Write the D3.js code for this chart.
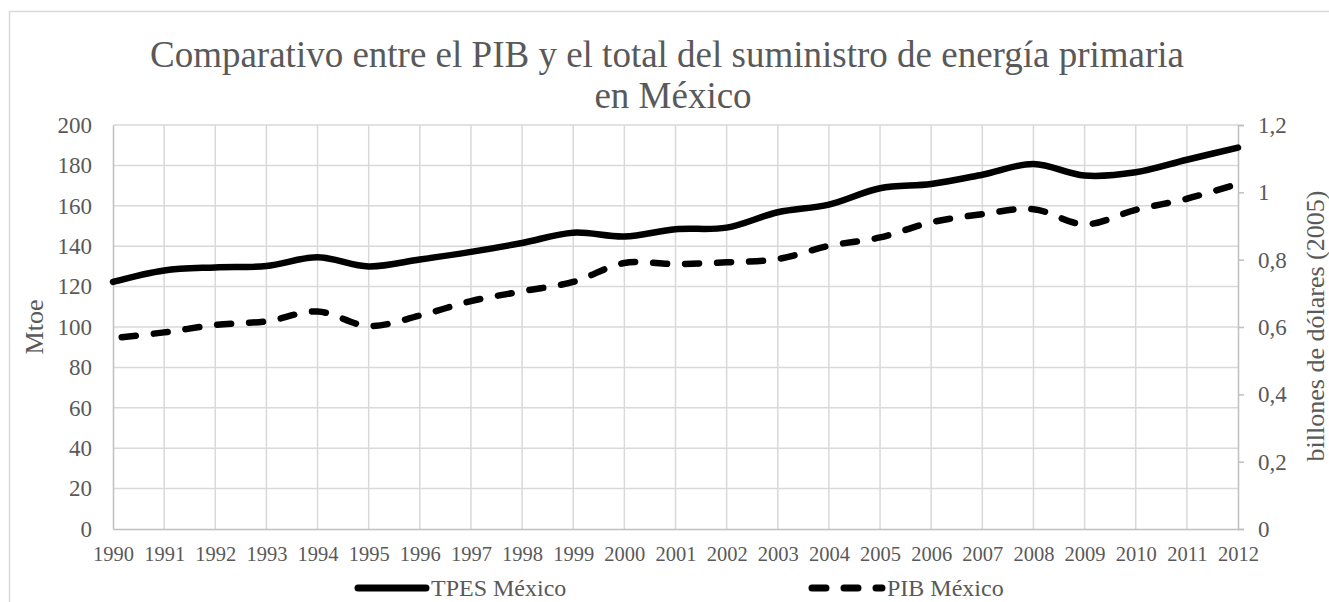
<html>
<head>
    <meta charset="utf-8">
    <title>PIB vs TPES México</title>
    <script src="https://d3js.org/d3.v7.min.js"></script>
    <style>
        body { margin: 0; background: #fff; }
        text { font-family: "Liberation Serif", "Times New Roman", serif; fill: #595959; }
    </style>
</head>
<body>
    <div id="chart"></div>
    <script>
        // data
        var years = ["1990", "1991", "1992", "1993", "1994", "1995", "1996", "1997", "1998", "1999", "2000", "2001",
            "2002", "2003", "2004", "2005", "2006", "2007", "2008", "2009", "2010", "2011", "2012"];
        var tpes = [122.3, 128.0, 129.5, 130.2, 134.5, 130.0, 133.4, 137.2, 141.6, 146.7, 144.8, 148.4,
            149.2, 156.8, 160.6, 168.7, 170.8, 175.4, 180.7, 175.0, 176.6, 182.8, 188.8];
        var pib = [0.567, 0.584, 0.606, 0.617, 0.646, 0.603, 0.634, 0.677, 0.706, 0.734, 0.790, 0.787,
            0.792, 0.802, 0.841, 0.866, 0.911, 0.935, 0.950, 0.905, 0.948, 0.981, 1.025];
        var leftTicks = [0, 20, 40, 60, 80, 100, 120, 140, 160, 180, 200];
        var rightTicks = [0, 0.2, 0.4, 0.6, 0.8, 1, 1.2];
        var seriesNames = ["TPES México", "PIB México"];

        function drawChart() {
            var width = 1329, height = 602;
            var plotLeft = 113, plotRight = 1238, plotTop = 125, plotBottom = 529;

            var svg = d3.select("#chart").append("svg")
                .attr("width", width)
                .attr("height", height);

            // chart area border
            svg.append("rect")
                .attr("x", 9.5).attr("y", 11.5)
                .attr("width", width + 20).attr("height", height + 20)
                .attr("fill", "none")
                .attr("stroke", "#d9d9d9")
                .attr("stroke-width", 1.5);

            var x = d3.scalePoint().domain(years).range([plotLeft, plotRight]);
            var yL = d3.scaleLinear().domain([0, 200]).range([plotBottom, plotTop]);
            var yR = d3.scaleLinear().domain([0, 1.2]).range([plotBottom, plotTop]);

            // gridlines
            svg.append("g").selectAll("line")
                .data(leftTicks.slice(1))
                .enter().append("line")
                .attr("x1", plotLeft).attr("x2", plotRight)
                .attr("y1", function(d) { return yL(d); })
                .attr("y2", function(d) { return yL(d); })
                .attr("stroke", "#d9d9d9").attr("stroke-width", 1.5);

            svg.append("g").selectAll("line")
                .data(years.slice(1, years.length - 1))
                .enter().append("line")
                .attr("x1", function(d) { return x(d); })
                .attr("x2", function(d) { return x(d); })
                .attr("y1", plotTop).attr("y2", plotBottom)
                .attr("stroke", "#d9d9d9").attr("stroke-width", 1.5);

            // axes
            var gL = svg.append("g")
                .attr("transform", "translate(" + plotLeft + ",0)")
                .call(d3.axisLeft(yL).tickValues(leftTicks).tickSize(0).tickPadding(21));
            gL.selectAll("text").style("font-size", "23px");

            var gR = svg.append("g")
                .attr("transform", "translate(" + plotRight + ",0)")
                .call(d3.axisRight(yR).tickValues(rightTicks).tickSize(6).tickPadding(14)
                    .tickFormat(function(d) { return String(+d.toFixed(1)).replace(".", ","); }));
            gR.selectAll("text").style("font-size", "23px");

            var gB = svg.append("g")
                .attr("transform", "translate(0," + plotBottom + ")")
                .call(d3.axisBottom(x).tickSize(0).tickPadding(17));
            gB.selectAll("text").style("font-size", "20.5px");

            svg.selectAll(".domain").attr("stroke", "#bfbfbf").attr("stroke-width", 1.5);
            svg.selectAll(".tick line").attr("stroke", "#bfbfbf").attr("stroke-width", 1.5);
            svg.selectAll(".tick text").attr("fill", "#595959").style("font-family", "'Liberation Serif', serif");

            // lines
            var lineL = d3.line()
                .x(function(d, i) { return x(years[i]); })
                .y(function(d) { return yL(d); })
                .curve(d3.curveCatmullRom);
            var lineR = d3.line()
                .x(function(d, i) { return x(years[i]); })
                .y(function(d) { return yR(d); })
                .curve(d3.curveCatmullRom);

            svg.append("path")
                .attr("d", lineL(tpes))
                .attr("fill", "none")
                .attr("stroke", "#000")
                .attr("stroke-width", 6.5)
                .attr("stroke-linecap", "round");

            svg.append("path")
                .attr("d", lineR(pib))
                .attr("fill", "none")
                .attr("stroke", "#000")
                .attr("stroke-width", 6.5)
                .attr("stroke-linecap", "round")
                .attr("stroke-dasharray", "14,18")
                .attr("stroke-dashoffset", 23);

            // title
            var title = svg.append("text")
                .attr("text-anchor", "middle")
                .style("font-size", "37px");
            title.append("tspan").attr("x", 667).attr("y", 67)
                .text("Comparativo entre el PIB y el total del suministro de energía primaria");
            title.append("tspan").attr("x", 673).attr("y", 108)
                .text("en México");

            // axis titles
            svg.append("text")
                .attr("transform", "translate(43,327) rotate(-90)")
                .attr("text-anchor", "middle")
                .style("font-size", "26px")
                .text("Mtoe");
            svg.append("text")
                .attr("transform", "translate(1324,326) rotate(-90)")
                .attr("text-anchor", "middle")
                .style("font-size", "26px")
                .text("billones de dólares (2005)");

            // legend
            var ly = 588;
            svg.append("line")
                .attr("x1", 358).attr("x2", 426).attr("y1", ly).attr("y2", ly)
                .attr("stroke", "#000").attr("stroke-width", 7).attr("stroke-linecap", "round");
            svg.append("text")
                .attr("x", 431).attr("y", ly).attr("dy", "0.33em")
                .style("font-size", "24px")
                .text(seriesNames[0]);
            svg.append("line")
                .attr("x1", 812).attr("x2", 882).attr("y1", ly).attr("y2", ly)
                .attr("stroke", "#000").attr("stroke-width", 7).attr("stroke-linecap", "round")
                .attr("stroke-dasharray", "14,18");
            svg.append("text")
                .attr("x", 887).attr("y", ly).attr("dy", "0.33em")
                .style("font-size", "24px")
                .text(seriesNames[1]);
        }

        drawChart();
    </script>
</body>
</html>
